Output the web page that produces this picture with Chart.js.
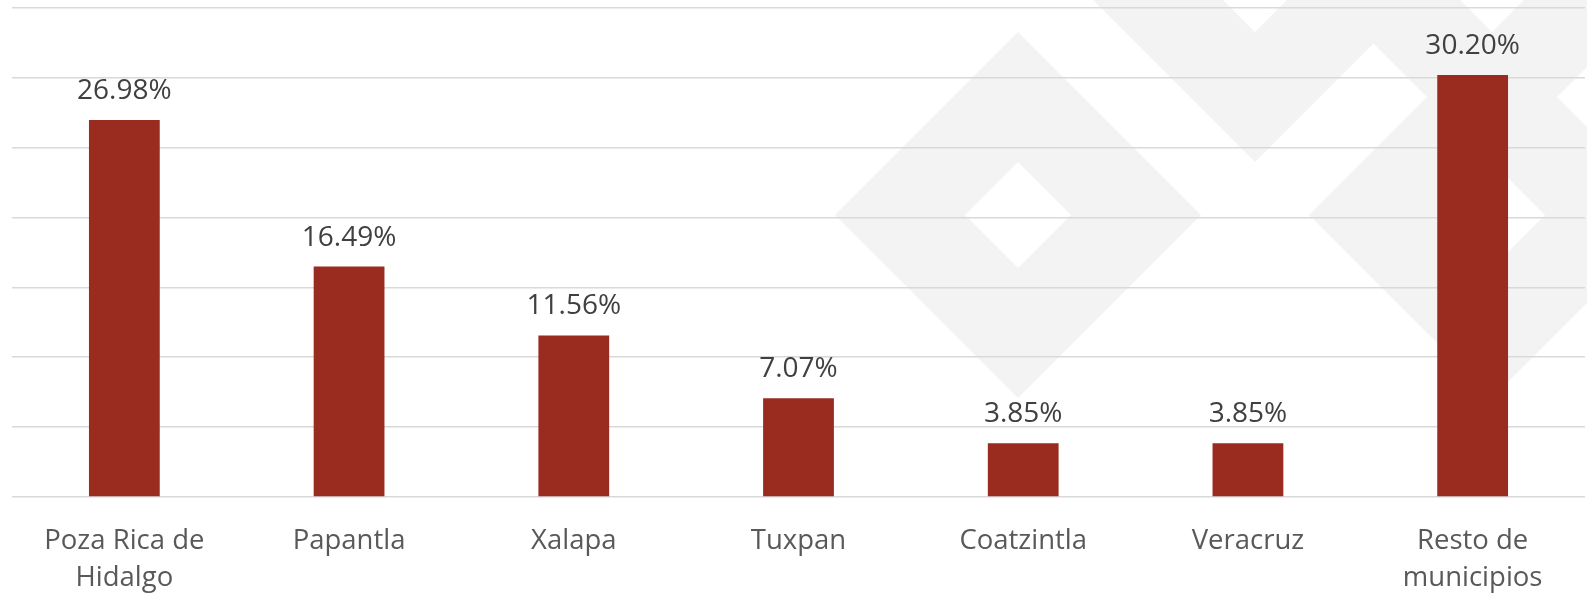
<!DOCTYPE html>
<html>
<head>
<meta charset="utf-8">
<script src="https://cdn.jsdelivr.net/npm/chart.js@4"></script>
<style>
  html, body { margin: 0; padding: 0; background: #fff; }
  .wrap { width: 1587px; height: 593px; position: relative; }
</style>
</head>
<body>
<div class="wrap"><canvas id="chart"></canvas></div>
<script>
const municipios = [["Poza Rica de", "Hidalgo"], "Papantla", "Xalapa", "Tuxpan", "Coatzintla", "Veracruz", ["Resto de", "municipios"]];
const porcentajes = [26.98, 16.49, 11.56, 7.07, 3.85, 3.85, 30.20];
const yTicks = { min: 0, max: 35, step: 5 };

const BAR = "#9a2b1f";
const GRID = "#d9d9d9";
const WATERMARK = "#f2f3f2";

// background diamond rings (decoration only)
const rings = [
  { cx: 1018, cy: 215 }, { cx: 1255, cy: -21 },
  { cx: 1492, cy: 215 }, { cx: 1492, cy: -21 },
];

const watermark = {
  id: "watermark",
  beforeDraw(chart) {
    const ctx = chart.ctx;
    ctx.save();
    ctx.fillStyle = WATERMARK;
    rings.forEach(r => {
      ctx.beginPath();
      [183, 53].forEach(h => {
        ctx.moveTo(r.cx, r.cy - h); ctx.lineTo(r.cx + h, r.cy);
        ctx.lineTo(r.cx, r.cy + h); ctx.lineTo(r.cx - h, r.cy); ctx.closePath();
      });
      ctx.fill("evenodd");
    });
    ctx.restore();
  },
};

const valueLabels = {
  id: "valueLabels",
  afterDatasetsDraw(chart) {
    const ctx = chart.ctx;
    ctx.save();
    ctx.font = "28px 'Open Sans'";
    ctx.fillStyle = "#404040";
    ctx.textAlign = "center";
    ctx.textBaseline = "alphabetic";
    chart.getDatasetMeta(0).data.forEach((bar, i) => {
      ctx.fillText(porcentajes[i].toFixed(2) + "%", bar.x, bar.y - 21);
    });
    ctx.restore();
  },
};

Chart.defaults.font.family = "'Open Sans'";

new Chart(document.getElementById("chart"), {
  type: "bar",
  data: { labels: municipios, datasets: [{
    data: porcentajes, backgroundColor: BAR,
    barPercentage: 0.315, categoryPercentage: 1,
  }]},
  options: {
    responsive: true, maintainAspectRatio: false, animation: false,
    layout: { padding: { left: 12, right: 2, top: 8, bottom: 0 } },
    scales: {
      x: {
        grid: { display: false }, border: { display: false },
        ticks: { color: "#595959", font: { size: 27.5, lineHeight: 1.34 }, padding: 18, maxRotation: 0 },
        afterFit: s => { s.height = 96; },
      },
      y: {
        min: yTicks.min, max: yTicks.max,
        ticks: { display: false, stepSize: yTicks.step },
        grid: { color: GRID, lineWidth: 1.6, drawTicks: false },
        border: { display: false },
        afterFit: s => { s.width = 0; },
      },
    },
    plugins: { legend: { display: false }, tooltip: { enabled: false } },
  },
  plugins: [watermark, valueLabels],
});
</script>
</body>
</html>
